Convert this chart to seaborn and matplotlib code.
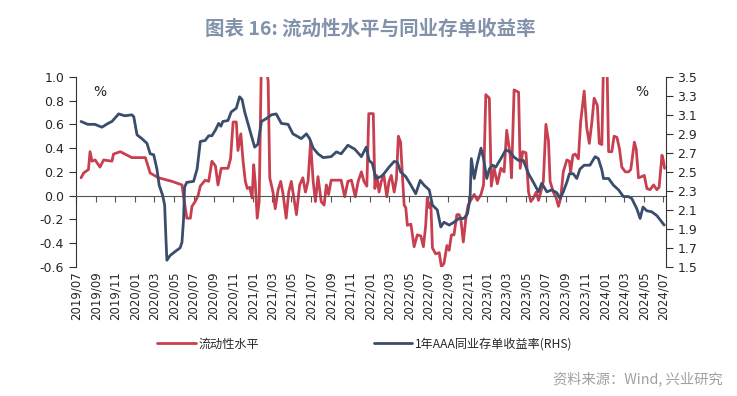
import matplotlib
matplotlib.use("Agg")
import matplotlib.pyplot as plt
import matplotlib.dates as mdates
import seaborn as sns
import pandas as pd

# 流动性水平（左轴）
liq_dates = [
    "2019-07-17", "2019-07-25", "2019-08-09", "2019-08-14", "2019-08-20", "2019-08-30",
    "2019-09-14", "2019-09-25", "2019-10-21", "2019-10-26", "2019-11-16", "2019-12-22",
    "2020-02-02", "2020-02-17", "2020-03-14", "2020-04-25", "2020-05-26", "2020-05-31",
    "2020-06-10", "2020-06-21", "2020-06-26", "2020-07-06", "2020-07-15", "2020-07-22",
    "2020-08-06", "2020-08-17", "2020-08-27", "2020-09-07", "2020-09-15", "2020-09-25",
    "2020-10-16", "2020-10-24", "2020-11-01", "2020-11-11", "2020-11-16", "2020-11-25",
    "2020-12-02", "2020-12-09", "2020-12-15", "2020-12-23", "2020-12-30", "2021-01-04",
    "2021-01-09", "2021-01-15", "2021-01-21", "2021-01-28", "2021-02-12", "2021-02-18",
    "2021-02-23", "2021-03-05", "2021-03-12", "2021-03-21", "2021-03-29", "2021-04-05",
    "2021-04-15", "2021-04-23", "2021-05-01", "2021-05-08", "2021-05-17", "2021-05-27",
    "2021-06-06", "2021-06-14", "2021-06-22", "2021-06-30", "2021-07-08", "2021-07-15",
    "2021-07-23", "2021-08-02", "2021-08-11", "2021-08-18", "2021-08-25", "2021-09-02",
    "2021-10-03", "2021-10-14", "2021-10-24", "2021-11-04", "2021-11-16", "2021-11-25",
    "2021-12-05", "2021-12-13", "2021-12-22", "2021-12-28", "2022-01-11", "2022-01-16",
    "2022-01-22", "2022-01-29", "2022-02-05", "2022-02-13", "2022-02-22", "2022-03-01",
    "2022-03-08", "2022-03-17", "2022-03-24", "2022-03-30", "2022-04-06", "2022-04-11",
    "2022-04-17", "2022-04-22", "2022-04-27", "2022-05-08", "2022-05-18", "2022-05-28",
    "2022-06-08", "2022-06-16", "2022-06-23", "2022-06-28", "2022-07-04", "2022-07-09",
    "2022-07-14", "2022-07-24", "2022-08-04", "2022-08-11", "2022-08-19", "2022-08-28",
    "2022-09-04", "2022-09-11", "2022-09-19", "2022-09-28", "2022-10-05", "2022-10-10",
    "2022-10-18", "2022-10-26", "2022-11-02", "2022-11-10", "2022-11-21", "2022-12-01",
    "2022-12-12", "2022-12-20", "2022-12-27", "2023-01-07", "2023-01-13", "2023-01-22",
    "2023-02-01", "2023-02-12", "2023-02-22", "2023-03-02", "2023-03-13", "2023-03-17",
    "2023-03-25", "2023-04-08", "2023-04-13", "2023-04-21", "2023-05-01", "2023-05-09",
    "2023-05-16", "2023-05-24", "2023-06-02", "2023-06-09", "2023-06-16", "2023-06-24",
    "2023-07-02", "2023-07-10", "2023-07-15", "2023-07-25", "2023-08-03", "2023-08-10",
    "2023-08-17", "2023-08-25", "2023-09-05", "2023-09-13", "2023-09-17", "2023-09-24",
    "2023-10-01", "2023-10-11", "2023-10-18", "2023-10-29", "2023-11-06", "2023-11-14",
    "2023-11-22", "2023-11-29", "2023-12-09", "2023-12-15", "2023-12-23", "2023-12-28",
    "2024-01-08", "2024-01-13", "2024-01-23", "2024-01-30", "2024-02-08", "2024-02-16",
    "2024-02-23", "2024-03-05", "2024-03-15", "2024-03-22", "2024-04-02", "2024-04-08",
    "2024-04-15", "2024-04-25", "2024-05-03", "2024-05-11", "2024-05-21", "2024-06-01",
    "2024-06-11", "2024-06-18", "2024-06-27", "2024-07-01", "2024-07-05",
]
liq_vals = [
    0.15, 0.19, 0.22, 0.37, 0.29, 0.30,
    0.24, 0.30, 0.29, 0.35, 0.37, 0.32,
    0.32, 0.19, 0.15, 0.12, 0.09, -0.01,
    -0.19, -0.19, -0.09, -0.05, 0.00, 0.08,
    0.13, 0.12, 0.29, 0.25, 0.09, 0.23,
    0.23, 0.31, 0.62, 0.62, 0.38, 0.52,
    0.29, 0.12, 0.06, 0.07, -0.02, 0.26,
    0.10, -0.19, -0.05, 1.15, 1.10, 0.96,
    0.15, 0.03, -0.11, 0.05, 0.12, 0.02,
    -0.19, 0.03, 0.12, 0.00, -0.16, 0.09,
    0.15, 0.03, 0.12, 0.45, 0.12, -0.05,
    0.16, -0.05, -0.08, 0.09, 0.01, 0.13,
    0.13, -0.01, 0.12, 0.13, -0.01, 0.12,
    0.20, 0.12, 0.08, 0.69, 0.69, 0.06,
    0.17, 0.03, 0.12, 0.17, -0.01, 0.12,
    0.17, 0.03, 0.14, 0.50, 0.45, 0.20,
    -0.08, -0.10, -0.25, -0.24, -0.43, -0.33,
    -0.34, -0.43, -0.25, -0.02, -0.10, -0.06,
    -0.44, -0.49, -0.48, -0.60, -0.57, -0.42,
    -0.46, -0.33, -0.33, -0.16, -0.16, -0.19,
    -0.39, -0.19, -0.08, -0.04, 0.01, -0.04,
    0.01, 0.09, 0.85, 0.82, 0.08, 0.23,
    0.10, 0.23, 0.20, 0.55, 0.34, 0.15,
    0.89, 0.87, 0.23, 0.37, 0.36, 0.03,
    -0.05, -0.02, 0.03, -0.04, 0.03, 0.12,
    0.60, 0.46, 0.12, 0.03, -0.02, -0.09,
    -0.02, 0.20, 0.30, 0.29, 0.20, 0.34,
    0.35, 0.31, 0.62, 0.88, 0.57, 0.44,
    0.62, 0.82, 0.76, 0.44, 0.43, 1.10,
    1.10, 0.37, 0.37, 0.50, 0.49, 0.39,
    0.24, 0.20, 0.20, 0.22, 0.45, 0.39,
    0.15, 0.16, 0.17, 0.06, 0.05, 0.09,
    0.05, 0.07, 0.34, 0.30, 0.23,
]

# 1年AAA同业存单收益率（右轴）
cd_dates = [
    "2019-07-17", "2019-08-07", "2019-08-29", "2019-09-20", "2019-10-09", "2019-10-21",
    "2019-11-11", "2019-11-30", "2019-12-22", "2019-12-28", "2020-01-07", "2020-01-22",
    "2020-02-07", "2020-02-17", "2020-02-28", "2020-03-09", "2020-03-16", "2020-03-27",
    "2020-04-02", "2020-04-06", "2020-04-09", "2020-04-19", "2020-05-04", "2020-05-20",
    "2020-05-26", "2020-05-31", "2020-06-03", "2020-06-10", "2020-07-01", "2020-07-12",
    "2020-07-22", "2020-08-06", "2020-08-17", "2020-08-27", "2020-09-07", "2020-09-17",
    "2020-09-24", "2020-09-30", "2020-10-16", "2020-10-26", "2020-11-11", "2020-11-21",
    "2020-11-29", "2020-12-07", "2020-12-23", "2021-01-07", "2021-01-17", "2021-01-28",
    "2021-02-12", "2021-02-28", "2021-03-15", "2021-03-31", "2021-04-21", "2021-05-06",
    "2021-06-01", "2021-06-17", "2021-06-27", "2021-07-08", "2021-07-23", "2021-08-08",
    "2021-09-02", "2021-09-18", "2021-10-03", "2021-10-24", "2021-11-14", "2021-12-05",
    "2021-12-20", "2021-12-29", "2022-01-08", "2022-01-19", "2022-02-04", "2022-02-13",
    "2022-03-01", "2022-03-17", "2022-03-27", "2022-04-06", "2022-04-22", "2022-05-08",
    "2022-05-23", "2022-06-06", "2022-06-18", "2022-07-04", "2022-07-14", "2022-07-29",
    "2022-08-09", "2022-08-19", "2022-09-04", "2022-09-19", "2022-10-05", "2022-10-20",
    "2022-10-31", "2022-11-08", "2022-11-12", "2022-11-21", "2022-11-29", "2022-12-12",
    "2022-12-20", "2022-12-30", "2023-01-07", "2023-01-17", "2023-01-27", "2023-02-12",
    "2023-02-27", "2023-03-13", "2023-03-23", "2023-04-08", "2023-04-23", "2023-05-09",
    "2023-05-24", "2023-06-09", "2023-06-19", "2023-07-05", "2023-07-20", "2023-08-05",
    "2023-08-15", "2023-08-25", "2023-09-05", "2023-09-13", "2023-09-25", "2023-10-06",
    "2023-10-16", "2023-10-29", "2023-11-16", "2023-12-02", "2023-12-12", "2023-12-23",
    "2023-12-28", "2024-01-13", "2024-01-28", "2024-02-13", "2024-02-28", "2024-03-15",
    "2024-03-25", "2024-04-10", "2024-04-20", "2024-04-29", "2024-05-11", "2024-05-26",
    "2024-06-11", "2024-06-27", "2024-07-04",
]
cd_vals = [
    3.03, 3.00, 3.00, 2.97, 3.01, 3.03,
    3.11, 3.09, 3.10, 3.08, 2.89, 2.85,
    2.80, 2.69, 2.68, 2.53, 2.36, 2.25,
    2.15, 1.80, 1.57, 1.62, 1.66, 1.70,
    1.76, 2.01, 2.34, 2.39, 2.40, 2.53,
    2.82, 2.83, 2.88, 2.88, 2.94, 3.01,
    2.98, 3.03, 3.04, 3.13, 3.17, 3.29,
    3.26, 3.13, 2.94, 2.76, 2.79, 3.03,
    3.06, 3.10, 3.11, 3.01, 3.00, 2.90,
    2.85, 2.90, 2.85, 2.75, 2.69, 2.65,
    2.66, 2.71, 2.69, 2.78, 2.74, 2.66,
    2.76, 2.62, 2.59, 2.43, 2.45, 2.48,
    2.55, 2.61, 2.60, 2.50, 2.45, 2.36,
    2.27, 2.41, 2.36, 2.31, 2.15, 2.10,
    1.92, 1.97, 1.94, 1.97, 2.01, 2.01,
    2.06, 2.22, 2.64, 2.43, 2.57, 2.75,
    2.64, 2.43, 2.53, 2.57, 2.55, 2.64,
    2.73, 2.71, 2.66, 2.62, 2.62, 2.48,
    2.39, 2.29, 2.38, 2.29, 2.31, 2.28,
    2.22, 2.29, 2.39, 2.48, 2.48, 2.43,
    2.53, 2.57, 2.57, 2.66, 2.64, 2.52,
    2.43, 2.43, 2.36, 2.31, 2.24, 2.24,
    2.22, 2.11, 2.01, 2.13, 2.09, 2.08,
    2.04, 1.97, 1.94,
]

liq = pd.DataFrame({"date": pd.to_datetime(liq_dates), "value": liq_vals})
cd = pd.DataFrame({"date": pd.to_datetime(cd_dates), "value": cd_vals})

RED = "#C8404F"
BLUE = "#3B4D6D"

sns.set_style("ticks")
plt.rcParams["font.family"] = ["DejaVu Sans", "Noto Sans CJK SC"]

fig = plt.figure(figsize=(7.37, 3.96), dpi=100)
ax = fig.add_axes([0.103, 0.326, 0.800, 0.480])
ax2 = ax.twinx()

sns.lineplot(data=liq, x="date", y="value", ax=ax, color=RED, linewidth=2.0,
             label="流动性水平", legend=False)
sns.lineplot(data=cd, x="date", y="value", ax=ax2, color=BLUE, linewidth=2.0,
             label="1年AAA同业存单收益率(RHS)", legend=False)

ax.set_ylim(-0.6, 1.0)
ax.set_yticks([-0.6, -0.4, -0.2, 0.0, 0.2, 0.4, 0.6, 0.8, 1.0])
ax.yaxis.set_major_formatter(matplotlib.ticker.FormatStrFormatter("%.1f"))
ax2.set_ylim(1.5, 3.5)
ax2.set_yticks([1.5, 1.7, 1.9, 2.1, 2.3, 2.5, 2.7, 2.9, 3.1, 3.3, 3.5])
ax2.yaxis.set_major_formatter(matplotlib.ticker.FormatStrFormatter("%.1f"))

ax.set_xlim(pd.Timestamp("2019-07-01"), pd.Timestamp("2024-07-08"))
ax.xaxis.set_major_locator(mdates.MonthLocator(bymonth=[1, 3, 5, 7, 9, 11]))
ax.xaxis.set_major_formatter(mdates.DateFormatter("%Y/%m"))

for a in (ax, ax2):
    a.set_xlabel("")
    a.set_ylabel("")
    a.spines["top"].set_visible(False)

# 零轴带刻度，日期标签放在底部
ax.spines["bottom"].set_position(("data", 0))
ax.spines["bottom"].set_color("#555555")
ax.tick_params(axis="x", direction="out", length=4, color="#555555", labelbottom=False)
ax2.xaxis.set_visible(True)
ax2.spines["bottom"].set_visible(False)
ax2.tick_params(axis="x", length=0, labelbottom=True, labelrotation=90, labelsize=8.5, pad=3)

ax.spines["left"].set_color("#333333")
ax2.spines["right"].set_color("#333333")
ax2.spines["left"].set_visible(False)
ax.spines["right"].set_visible(False)
ax.tick_params(axis="y", direction="out", length=5, labelsize=9, color="#333333")
ax2.tick_params(axis="y", direction="out", length=5, labelsize=9, color="#333333")

ax.text(0.04, 0.90, "%", transform=ax.transAxes, fontsize=10, ha="center")
ax2.text(0.96, 0.90, "%", transform=ax2.transAxes, fontsize=10, ha="center")

h1, l1 = ax.get_legend_handles_labels()
h2, l2 = ax2.get_legend_handles_labels()
fig.legend(h1 + h2, l1 + l2, loc="center", bbox_to_anchor=(0.495, 0.131), ncol=2,
           frameon=False, handlelength=3.2, columnspacing=9.5, handletextpad=0.2,
           prop={"family": ["Noto Sans CJK SC"], "size": 8.7})

fig.text(0.502, 0.926, "图表 16: 流动性水平与同业存单收益率", ha="center", va="center",
         fontsize=14, fontweight="bold", color="#8192AA", family=["Noto Sans CJK SC"])
fig.text(0.98, 0.043, "资料来源：Wind, 兴业研究", ha="right", va="center",
         fontsize=10.3, color="#A0A0A0", family=["Noto Sans CJK SC"])

fig.savefig("out.png", dpi=100)
